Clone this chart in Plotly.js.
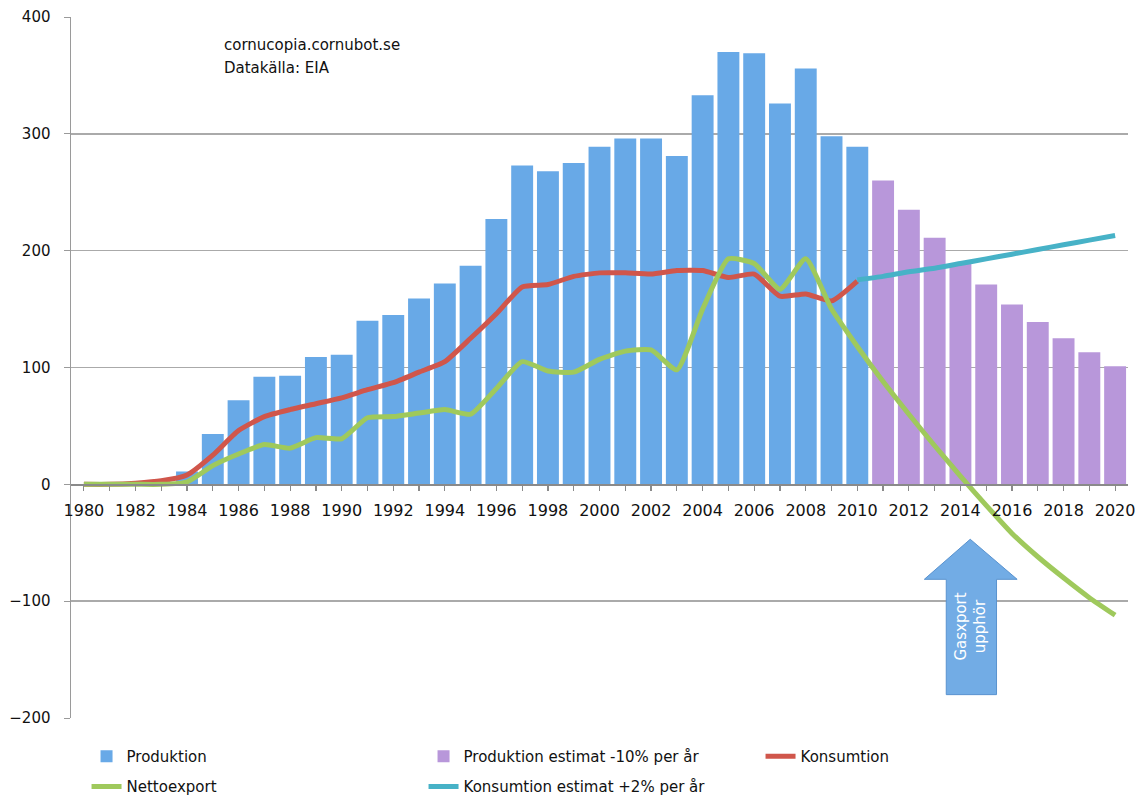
<!DOCTYPE html>
<html>
<head>
<meta charset="utf-8">
<script src="https://cdn.plot.ly/plotly-3.0.1.min.js"></script>
<style>html,body{margin:0;padding:0;background:#fff;}#chart{width:1141px;height:798px;}</style>
</head>
<body>
<div id="chart"></div>
<script>
// Years
var yearsHist = [1980,1981,1982,1983,1984,1985,1986,1987,1988,1989,1990,1991,1992,1993,1994,1995,1996,1997,1998,1999,2000,2001,2002,2003,2004,2005,2006,2007,2008,2009,2010];
var yearsEst = [2011,2012,2013,2014,2015,2016,2017,2018,2019,2020];
var yearsEstCons = [2010,2011,2012,2013,2014,2015,2016,2017,2018,2019,2020];
var yearsAll = yearsHist.concat(yearsEst);

// Produktion (historical)
var produktion = [0,0,0,1,11,43,72,92,93,109,111,140,145,159,172,187,227,273,268,275,289,296,296,281,333,370,369,326,356,298,289];
// Produktion estimat -10% per år
var produktionEst = [260,235,211,189,171,154,139,125,113,101];
// Konsumtion
var konsumtion = [0,0,1,3,8,25,46,58,64,69,74,81,87,96,105,125,146,169,171,178,181,181,180,183,183,177,180,161,163,157,174];
// Konsumtion estimat +2% per år
var konsumtionEst = [175,178,182,185,189,193,197,201,205,209,213];
// Nettoexport
var nettoexport = [0,0,0,0,2,16,26,34,31,40,39,57,58,61,64,60,82,105,97,96,107,114,115,98,150,193,189,167,193,150,118,88,60,33,7,-18,-42,-62,-80,-97,-112];

var yTicks = [-200,-100,0,100,200,300,400];

var traces = [
  {type:'bar', name:'Produktion', x:yearsHist, y:produktion, legend:'legend',
   marker:{color:'#68a9e7', line:{width:0}}},
  {type:'bar', name:'Produktion estimat -10% per år', x:yearsEst, y:produktionEst, legend:'legend',
   marker:{color:'#b897da', line:{width:0}}},
  {type:'scatter', mode:'lines', name:'Konsumtion', x:yearsHist, y:konsumtion, legend:'legend',
   line:{color:'#d0564b', width:5, shape:'spline', smoothing:0.5}},
  {type:'scatter', mode:'lines', name:'Nettoexport', x:yearsAll, y:nettoexport, legend:'legend2',
   line:{color:'#9fc95c', width:5, shape:'spline', smoothing:0.5}},
  {type:'scatter', mode:'lines', name:'Konsumtion estimat +2% per år', x:yearsEstCons, y:konsumtionEst, legend:'legend2',
   line:{color:'#47b2c7', width:5, shape:'spline', smoothing:0.5}}
];

var legendBase = {orientation:'h', xanchor:'left', yanchor:'middle',
  entrywidth:292, entrywidthmode:'pixels', traceorder:'normal',
  font:{family:'DejaVu Sans, sans-serif', size:15, color:'#111'},
  bgcolor:'rgba(0,0,0,0)', borderwidth:0};

var layout = {
  width:1141, height:798,
  margin:{l:71, r:13, t:17, b:80, autoexpand:false},
  paper_bgcolor:'#ffffff', plot_bgcolor:'#ffffff',
  font:{family:'DejaVu Sans, sans-serif', color:'#111111', size:14},
  barmode:'relative', bargap:0.15,
  showlegend:true,
  legend:Object.assign({}, legendBase, {x:0.0147, y:-0.055}),
  legend2:Object.assign({}, legendBase, {x:0.0147, y:-0.098}),
  xaxis:{type:'linear', range:[1979.5,2020.5], tick0:1980, dtick:2,
         anchor:'free', position:1/3, showgrid:false, zeroline:false,
         showline:true, linecolor:'#8a8a8a', linewidth:1.5,
         ticks:'outside', ticklen:5, tickcolor:'#8a8a8a', tickwidth:1.2,
         ticklabelstandoff:6,
         minor:{dtick:1, ticks:'outside', ticklen:5, tickcolor:'#8a8a8a'},
         tickfont:{family:'DejaVu Sans, sans-serif', size:16, color:'#111'}},
  yaxis:{range:[-200,400], tickvals:yTicks, showgrid:true, gridcolor:'#aaaaaa', gridwidth:1.5,
         zeroline:false, showline:true, linecolor:'#9a9a9a', linewidth:1.5,
         ticks:'outside', ticklen:6, tickcolor:'#9a9a9a', ticklabelstandoff:10,
         tickfont:{family:'DejaVu Sans, sans-serif', size:15, color:'#111'}},
  shapes:[
    {type:'path', xref:'x', yref:'y', layer:'above',
     path:'M 2014.38,-47 L 2016.2,-81.3 L 2015.4,-81.3 L 2015.4,-180 L 2013.45,-180 L 2013.45,-81.3 L 2012.6,-81.3 Z',
     fillcolor:'#72ace5', line:{color:'#5a93cf', width:1}}
  ],
  annotations:[
    {xref:'paper', yref:'paper', x:0.1429, y:(718-45)/701, xanchor:'left', yanchor:'middle', align:'left',
     showarrow:false, text:'cornucopia.cornubot.se',
     font:{family:'DejaVu Sans, sans-serif', size:15, color:'#111'}},
    {xref:'paper', yref:'paper', x:0.1429, y:(718-68)/701, xanchor:'left', yanchor:'middle', align:'left',
     showarrow:false, text:'Datakälla: EIA',
     font:{family:'DejaVu Sans, sans-serif', size:15, color:'#111'}},
    {xref:'x', yref:'y', x:2014.4, y:-122, textangle:-90, showarrow:false,
     text:'Gasxport<br>upphör', align:'center',
     font:{family:'DejaVu Sans, sans-serif', size:15, color:'#ffffff'}}
  ]
};

Plotly.newPlot('chart', traces, layout, {displayModeBar:false, staticPlot:true});
</script>
</body>
</html>
